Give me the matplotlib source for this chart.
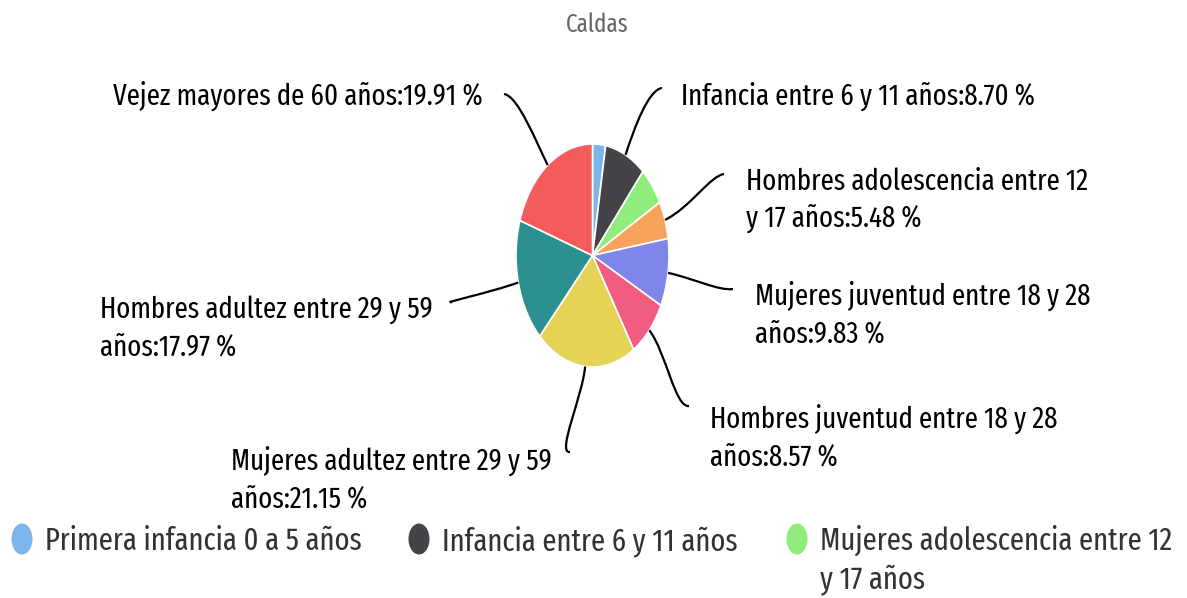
import textwrap
import numpy as np
import matplotlib
matplotlib.use("Agg")
import matplotlib.pyplot as plt
from matplotlib.path import Path
from matplotlib.patches import PathPatch, Ellipse

plt.rcParams['font.family'] = ['Fira Sans Extra Condensed', 'DejaVu Sans']

# data
title = "Caldas"
groups = ["Primera infancia 0 a 5 años", "Infancia entre 6 y 11 años",
          "Mujeres adolescencia entre 12 y 17 años", "Hombres adolescencia entre 12 y 17 años",
          "Mujeres juventud entre 18 y 28 años", "Hombres juventud entre 18 y 28 años",
          "Mujeres adultez entre 29 y 59 años", "Hombres adultez entre 29 y 59 años",
          "Vejez mayores de 60 años"]
percent = [2.75, 8.70, 5.64, 5.48, 9.83, 8.57, 21.15, 17.97, 19.91]
colors = ["#7cb5ec", "#434348", "#90ed7d", "#f7a35c", "#8085e9",
          "#f15c80", "#e4d354", "#2b908f", "#f45b5b"]

# layout of the outside labels (pixels): text x, first baseline, align, connector start, wrap
label_layout = [None,
                (681, 105, 'left', (662, 88), 40),
                None,
                (746, 190, 'left', (724, 174), 30),
                (755, 305, 'left', (733, 289), 30),
                (710, 428, 'left', (689, 406), 30),
                (231, 470, 'left', (570, 452), 30),
                (100, 318, 'left', (452, 302), 30),
                (483, 105, 'right', (504, 94), 40)]
line_gap = 37

W, H = 1187, 598
fig = plt.figure(figsize=(W / 100, H / 100), dpi=100)
fig.patch.set_facecolor('white')

# pie is squashed horizontally like the source
cx, cy, rx, ry = 592.5, 255.5, 76.5, 111.5
ax_pie = fig.add_axes([(cx - rx) / W, (H - cy - ry) / H, 2 * rx / W, 2 * ry / H])
ax_pie.pie(percent, colors=colors, startangle=90, counterclock=False,
           wedgeprops=dict(edgecolor='white', linewidth=1.2))
ax_pie.set_aspect('auto')
ax_pie.set_xlim(-1, 1)
ax_pie.set_ylim(-1, 1)
ax_pie.axis('off')

ax = fig.add_axes([0, 0, 1, 1])
ax.set_xlim(0, W)
ax.set_ylim(H, 0)
ax.axis('off')

ax.text(597, 32, title, ha='center', va='baseline', fontsize=18, color='#666666')

frac = np.array(percent) / sum(percent)
mids = 360 * (np.cumsum(frac) - frac / 2)
to_px = ax.transData.inverted()

for i, lay in enumerate(label_layout):
    if lay is None:
        continue
    tx, ty, ha, (axp, ayp), wrap = lay
    txt = f"{groups[i]}:{percent[i]:.2f} %"
    for k, line in enumerate(textwrap.wrap(txt, wrap)):
        ax.text(tx, ty + k * line_gap, line, ha=ha, va='baseline', fontsize=21, color='black')
    # connector from label to the slice edge at its mid angle
    th = np.deg2rad(mids[i])
    ex, ey = to_px.transform(ax_pie.transData.transform((np.sin(th), np.cos(th))))
    ox, oy = ex - cx, ey - cy
    n = np.hypot(ox, oy)
    ox, oy = ox / n, oy / n
    side = -1 if ha == 'left' else 1
    verts = [(axp, ayp), (axp + side * 14, ayp + 2), (ex + ox * 28, ey + oy * 28), (ex, ey)]
    ax.add_patch(PathPatch(Path(verts, [Path.MOVETO, Path.CURVE4, Path.CURVE4, Path.CURVE4]),
                           fill=False, edgecolor='black', linewidth=1.6))

# legend (first page only, as in the source)
leg_x = [22, 419, 797]
for k in range(3):
    ax.add_patch(Ellipse((leg_x[k], 539), 21, 31, facecolor=colors[k], edgecolor='none'))
    for j, line in enumerate(textwrap.wrap(groups[k], 30)):
        ax.text(leg_x[k] + 23, 550 + j * 38, line, ha='left', va='baseline',
                fontsize=22.4, color='#333333')

fig.savefig("out.png", dpi=100, facecolor='white')
